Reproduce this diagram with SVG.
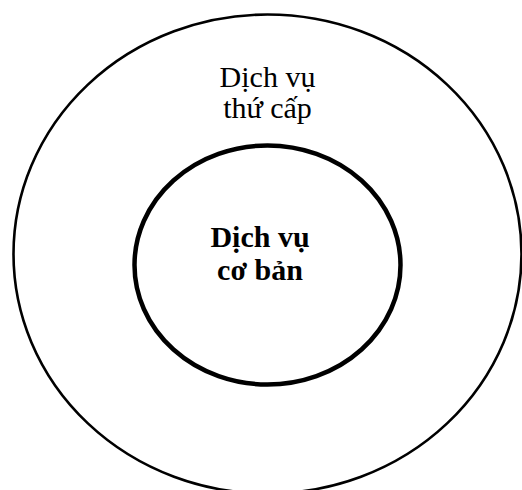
<svg xmlns="http://www.w3.org/2000/svg" width="522" height="490" viewBox="0 0 522 490">
<style>
.ring{fill:none;stroke:#000}
.t{font-family:"Liberation Serif","Times New Roman",serif;text-anchor:middle;fill:#000}
.r{font-size:30px}
.b{font-size:30px;font-weight:bold}
</style>
<rect width="522" height="490" fill="#fff"/>
<g id="secondary">
<ellipse class="ring" cx="267.5" cy="254" rx="254" ry="239.5" stroke-width="2.6"/>
<text class="t r" x="267.5" y="87">Dịch vụ</text>
<text class="t r" x="267.5" y="118">thứ cấp</text>
</g>
<g id="core">
<ellipse class="ring" cx="267.5" cy="265" rx="133" ry="119.5" stroke-width="4.5"/>
<text class="t b" x="260" y="247">Dịch vụ</text>
<text class="t b" x="260" y="280">cơ bản</text>
</g>
<g id="connectors"/>
</svg>
